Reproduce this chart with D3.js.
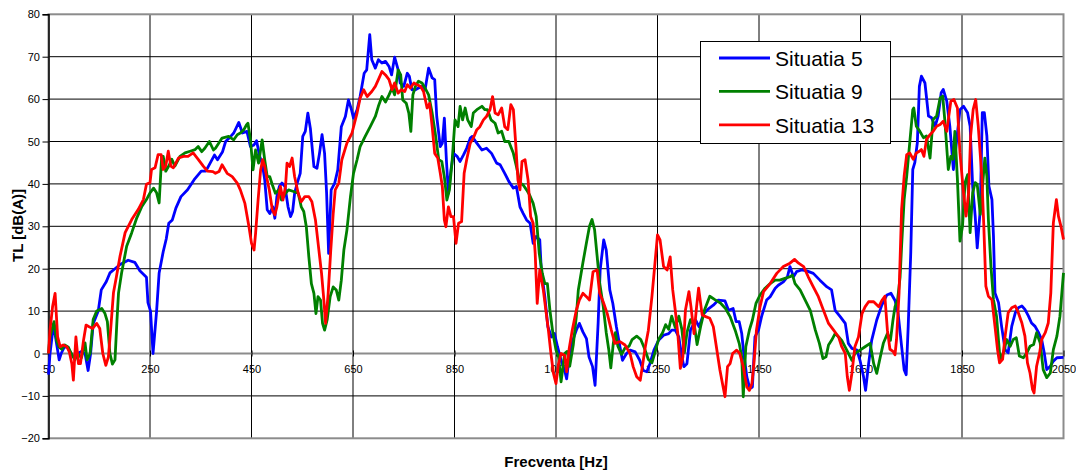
<!DOCTYPE html>
<html>
<head>
<meta charset="utf-8">
<script src="https://cdn.jsdelivr.net/npm/d3@7"></script>
<style>
  html, body { margin: 0; padding: 0; background: #fff; }
  svg { display: block; font-family: "Liberation Sans", Arial, sans-serif; }
</style>
</head>
<body>
<svg id="chart" width="1076" height="473"></svg>
<script>
// Frequency axis ticks (Hz) and level axis ticks (dB(A))
const freqTicks = [50, 250, 450, 650, 850, 1050, 1250, 1450, 1650, 1850, 2050];
const tlTicks = [-20, -10, 0, 10, 20, 30, 40, 50, 60, 70, 80];

const seriesNames = ["Situatia 5", "Situatia 9", "Situatia 13"];
const seriesColors = ["#0000ff", "#008000", "#ff0000"];

// Transmission loss TL [dB(A)] versus frequency [Hz], as [frequency, TL] pairs
const situatia5 = [[50,-5],[53,0],[60,7],[65,3],[71,-1.5],[75,0],[81,1.5],[88,1.5],[94,0],[101,-1],[107,0],[115,0.5],[122,0],[128,-4],[133,0],[138,7],[148,10],[154,15],[164,17],[171,19],[181,20],[191,21],[207,22],[220,21.5],[230,19.5],[243,18],[246,12],[251,10],[256,0],[263,10],[268,19],[276,24],[282,27],[287,30.7],[294,31.5],[301,34.3],[311,37],[324,38.6],[337,41],[351,43],[360,43],[377,46.8],[383,45.7],[393,47.6],[399,50],[409,51.2],[415,52],[425,54.5],[432,52],[441,52.4],[448,48.8],[455,49.2],[460,50.2],[466,46.5],[471,44.9],[476,41],[481,33.9],[486,33],[492,34.6],[496,31.9],[500,37],[505,39.4],[510,40.2],[516,39.4],[522,34.6],[527,32.3],[531,33.5],[535,37.8],[540,40.2],[546,42.5],[551,51.2],[556,52.4],[561,56.7],[566,53.1],[573,44.1],[579,43.7],[584,47.2],[589,51.6],[594,47.2],[598,37.8],[602,23.6],[607,38.6],[614,40.2],[620,43.3],[627,53.5],[635,55.9],[641,59.8],[647,57.5],[651,55.5],[658,57.5],[664,60.6],[672,66.1],[677,66.9],[683,75.2],[687,69.3],[694,67.3],[700,69.3],[707,68.5],[714,68.9],[721,67.7],[726,65.7],[732,69.9],[739,66.9],[743,63.8],[750,63],[757,66.1],[761,65.4],[766,62.2],[773,62.2],[779,62.6],[786,63],[792,62.2],[799,67.3],[806,65],[811,64.6],[815,55.9],[822,48.8],[826,49.6],[830,55.5],[834,45.7],[838,37.8],[843,43.3],[848,47.2],[855,46.5],[861,45.3],[868,46.9],[874,48.4],[881,50.8],[885,51.2],[894,49.6],[904,48],[913,48.4],[923,47.2],[933,44.9],[940,44.5],[949,42.5],[957,40.6],[966,39],[972,39.4],[979,34.6],[985,33.1],[992,31.5],[999,30.7],[1005,26],[1011,27.6],[1018,26.8],[1021,19.7],[1028,13.4],[1034,6.3],[1041,3.9],[1047,4.7],[1053,1.6],[1060,-1.6],[1067,-4],[1071,-6],[1076,-0.8],[1083,3.1],[1090,5.5],[1096,7.1],[1103,5.1],[1110,3.5],[1115,-0.8],[1122,-3.1],[1127,-7.5],[1133,7.1],[1137,19.7],[1144,26.8],[1149,24.4],[1156,15],[1162,11.8],[1169,6.3],[1176,1.6],[1181,-1.6],[1189,0],[1196,0.8],[1206,0.4],[1215,-1.6],[1222,-4],[1229,-4.3],[1235,-2.4],[1243,0.8],[1252,3.1],[1262,4.3],[1272,4.7],[1278,5.5],[1285,5.5],[1292,3.9],[1298,-0.8],[1302,-3.1],[1308,-2.4],[1315,5.5],[1325,7.9],[1332,6.3],[1341,9.4],[1351,10.6],[1360,11.4],[1370,12.6],[1383,12.4],[1390,10.2],[1399,10.6],[1405,7.5],[1411,7.5],[1416,4.7],[1420,0],[1426,-5.5],[1432,-8.3],[1437,-7.9],[1442,3.9],[1449,5.5],[1455,8.7],[1465,12.6],[1472,13.4],[1482,15.4],[1488,16.1],[1498,16.9],[1506,18.1],[1511,20.5],[1518,18.1],[1524,19.3],[1534,19.7],[1544,19.5],[1557,18.9],[1570,17.3],[1584,15.7],[1593,15],[1600,10.2],[1610,8.7],[1620,7.1],[1626,2.4],[1633,1.2],[1643,0.8],[1649,-1.6],[1656,-5.5],[1660,-8.7],[1666,-2.4],[1672,3.1],[1682,7.9],[1692,11.4],[1702,13.8],[1710,14.2],[1718,12.5],[1724,9.6],[1731,1.7],[1736,-3.8],[1740,-5],[1744,6.4],[1749,23.7],[1753,43.4],[1757,45],[1762,49.7],[1766,63],[1770,65.4],[1777,63.8],[1784,56],[1790,55.6],[1797,53.6],[1803,56],[1809,61.5],[1813,62.3],[1820,59.5],[1826,53.6],[1833,43.4],[1839,49.7],[1846,57.5],[1853,58.3],[1861,56.8],[1866,53.6],[1871,39.5],[1876,32.4],[1880,24.9],[1886,34],[1890,56.8],[1894,56.8],[1899,51.3],[1903,39.5],[1909,36.3],[1912,27.7],[1915,14.3],[1922,12],[1928,6.4],[1935,0.9],[1941,0.2],[1948,6.4],[1955,9.6],[1961,10.8],[1968,11.2],[1974,10.4],[1981,8.8],[1987,7.2],[1994,6.4],[2001,4.9],[2007,3.3],[2012,0.2],[2017,-3.8],[2024,-3],[2030,-1.8],[2037,-1],[2050,-0.9]];

const situatia9 = [[50,0],[53,4],[61,7.5],[66,3],[71,1.5],[76,1],[82,2],[89,1.5],[95,0],[102,-1.5],[107,0],[115,-1],[122,2.5],[126,-1.5],[132,0],[138,8],[145,10],[155,10.6],[161,9.5],[166,7.5],[171,0],[176,-2.5],[181,-1.5],[185,8],[188,14.3],[194,19],[204,25.3],[214,28.5],[224,32],[234,34.7],[243,36.3],[250,37.9],[257,39],[263,37.9],[268,35.5],[273,46.5],[276,46.5],[281,43],[287,44.2],[293,45.8],[299,44.2],[309,46.5],[319,47.3],[329,47.7],[339,48.1],[345,48.8],[352,47.6],[358,48.4],[367,50],[375,48],[379,48.4],[392,50.8],[405,51.2],[415,50.4],[422,51.6],[428,52],[435,52.8],[440,53.9],[443,54.3],[448,50.4],[453,43.3],[458,48],[464,44.9],[471,50.4],[476,45.7],[481,41.7],[486,41.7],[491,39.8],[497,37.8],[504,38.6],[509,36.2],[517,37.8],[523,38.6],[533,38.2],[542,37.8],[548,34.6],[553,33.5],[558,29.9],[563,22.8],[568,16.5],[573,14.2],[577,9.4],[581,13.4],[586,12.6],[590,7.1],[594,5.5],[599,7.9],[605,13.4],[611,15.7],[617,15],[622,12.6],[627,17.3],[632,24.4],[638,29.1],[645,37],[651,42.5],[658,45.7],[664,48.8],[674,51.2],[684,53.5],[694,55.9],[700,58.3],[707,60.6],[714,59.3],[721,61],[727,62.6],[732,61],[739,66.9],[744,65.7],[748,59.8],[755,59],[760,56.7],[764,52.4],[768,61],[773,63],[779,64.2],[786,63.8],[792,62.6],[799,61],[806,56.7],[812,52],[819,45.7],[825,45.3],[830,41.7],[835,36.2],[840,38.6],[845,44.9],[851,55.1],[857,53.5],[861,58.3],[866,55.1],[871,57.9],[876,55.1],[883,53.5],[887,56.7],[894,57.5],[904,58.3],[910,57.5],[915,57.5],[922,55.1],[930,54.3],[936,52],[943,52.4],[949,50],[957,50],[966,47.2],[972,44.1],[979,40.2],[985,39.8],[992,38.6],[998,37.4],[1005,35.4],[1011,32.3],[1017,23.6],[1023,18.9],[1028,16.5],[1033,16.5],[1038,10.2],[1044,4.7],[1050,0.8],[1055,-0.8],[1060,-6.7],[1067,0],[1072,0.5],[1077,-3],[1084,2],[1090,8.7],[1094,15],[1103,21.4],[1110,26.1],[1116,30],[1121,31.6],[1126,29.2],[1131,23],[1136,16.7],[1143,11.2],[1149,4.9],[1154,0.9],[1158,-3.4],[1163,2.5],[1167,4.9],[1172,1.7],[1179,-0.2],[1186,1.3],[1194,1.7],[1200,3.3],[1209,4.1],[1217,3.3],[1224,1.3],[1232,-1.4],[1239,-2.2],[1245,0.2],[1252,3.3],[1260,4.9],[1266,6.8],[1272,5.7],[1278,8.8],[1285,6.1],[1292,8.8],[1298,5.7],[1303,0.2],[1308,4.9],[1315,8],[1323,6.4],[1328,2.1],[1335,6.4],[1343,10.4],[1353,13.5],[1363,12.7],[1374,11.9],[1384,10.6],[1393,8.7],[1403,5.5],[1411,2.4],[1416,-0.8],[1419,-10.2],[1424,1.6],[1431,5.5],[1437,7.9],[1444,11.8],[1452,13.8],[1462,15.4],[1472,16.5],[1482,17.3],[1491,17.3],[1501,17.7],[1511,18.1],[1516,18.5],[1521,16.5],[1531,15],[1541,12.6],[1551,10.2],[1561,5.5],[1569,2.4],[1576,-1.2],[1582,-0.8],[1587,2],[1593,3.1],[1600,4.7],[1607,3.9],[1613,3.1],[1623,0.8],[1633,-1.6],[1639,0],[1649,0.8],[1659,1.6],[1669,2.4],[1676,-2.4],[1682,-4.7],[1689,-0.8],[1695,2.4],[1703,4.7],[1709,3.1],[1714,7.9],[1718,11],[1723,12.6],[1728,18],[1731,25.3],[1736,36.3],[1741,41.8],[1747,49.7],[1753,57.5],[1755,57.9],[1760,53.6],[1767,52.4],[1774,50.9],[1780,51.3],[1787,46.1],[1793,55.2],[1800,56],[1807,60.3],[1812,60.7],[1816,55.2],[1823,43.4],[1828,46.5],[1832,45.8],[1836,52.4],[1841,41],[1846,26.5],[1851,30],[1856,40.3],[1861,42.2],[1866,28.5],[1871,37.9],[1876,40.3],[1880,39.9],[1886,32.8],[1891,40.3],[1895,46.1],[1899,41.8],[1902,31.6],[1907,20.6],[1912,12.7],[1918,8.8],[1925,-1.4],[1932,0.2],[1938,3.3],[1945,1.7],[1951,3.3],[1957,3.7],[1963,-0.6],[1971,-1],[1978,0.2],[1984,1.7],[1991,2.1],[1997,4.9],[2004,2.5],[2010,-3.8],[2017,-5.7],[2024,-4.6],[2030,0.9],[2037,4.1],[2043,8.8],[2050,19]];

const situatia13 = [[50,0],[53,5.5],[58,11],[63,14.2],[68,3.9],[73,1.6],[79,2],[86,1.6],[91,0.4],[96,-2.4],[99,-6.3],[104,3.9],[109,-2.4],[113,-2.4],[119,3.1],[124,6.7],[130,6.3],[137,5.9],[145,7.1],[151,5.9],[157,0],[163,-2.8],[168,-0.8],[172,4.9],[178,14.3],[184,18.2],[191,23],[201,28.5],[214,31.6],[227,34],[237,36.3],[243,39.9],[250,40.3],[253,43.4],[260,43.8],[266,46.9],[272,46.9],[276,43.4],[281,44.2],[286,47.7],[291,44.2],[296,43.8],[306,46.1],[316,46.5],[325,46.5],[335,47.3],[345,45.8],[355,44.2],[363,43],[374,42.9],[379,42.5],[386,42.9],[392,44.5],[402,42.5],[412,41.7],[422,40.2],[428,38.6],[437,35.4],[445,29.9],[450,26],[455,24.4],[458,28.3],[463,36.2],[468,43.3],[472,45.7],[476,44.1],[481,40.9],[485,38.6],[491,33.9],[496,32.7],[500,34.6],[507,39.4],[512,36.2],[517,39.4],[520,44.9],[525,44.1],[530,46.1],[535,41.7],[542,37.8],[548,35.8],[555,37],[563,37],[569,35.8],[576,31.5],[582,25.2],[588,18.9],[592,13.4],[596,7.1],[601,14],[606,24],[611,33],[615,38.6],[622,40.2],[628,45.7],[638,49.6],[648,52],[658,56.7],[664,60.2],[671,62.2],[678,60.6],[687,61.8],[694,63],[700,64.6],[707,66.5],[714,65.7],[721,64.6],[727,62.2],[732,63.8],[739,61.4],[745,62.2],[752,61.8],[757,63.4],[763,62.6],[770,63.8],[776,63.4],[783,63],[789,61.8],[796,57.9],[801,59],[806,53.5],[811,47.2],[817,46.1],[822,42.5],[826,39.4],[830,31.5],[833,29.9],[838,34.6],[843,32.3],[848,32.3],[853,26],[858,30.7],[864,31.1],[869,42.5],[874,45.7],[881,49.6],[887,50.8],[894,52.8],[900,53.5],[907,55.1],[913,55.9],[920,57.5],[925,60.6],[930,56.7],[936,56.3],[943,57.9],[949,53.5],[955,52.8],[961,58.7],[966,57.5],[971,48.8],[975,40.9],[979,38.6],[983,45.3],[989,45.7],[995,40.9],[1000,32.3],[1005,30.7],[1009,23.6],[1013,11.8],[1018,19.7],[1025,15],[1030,10.2],[1035,5.5],[1040,0],[1045,-4.7],[1050,-7.1],[1055,-2.4],[1060,0],[1067,-0.4],[1071,-4.3],[1076,1.2],[1082,5.5],[1090,10.2],[1096,12.6],[1103,14.2],[1110,13.4],[1116,12.6],[1123,19.3],[1131,19.7],[1136,14.2],[1143,12.2],[1151,9.4],[1159,5.5],[1166,2.4],[1176,2.8],[1186,2],[1196,0],[1202,-3.1],[1209,-5.5],[1216,-6.3],[1221,-2.4],[1226,1.6],[1232,5.5],[1239,13.4],[1245,21.3],[1250,28],[1255,26.8],[1262,20.5],[1269,19.7],[1275,22.8],[1280,15],[1285,10.2],[1290,4.7],[1295,-3.5],[1300,-0.8],[1305,10.2],[1312,14.6],[1316,11],[1322,4.7],[1327,11],[1331,15.4],[1338,9.1],[1345,8.7],[1353,8.3],[1360,6.3],[1366,1.6],[1373,-3.9],[1378,-7.1],[1383,-10.2],[1388,-3.1],[1393,-2.4],[1398,0],[1406,0.8],[1412,0],[1419,-3.1],[1426,-7.9],[1431,-8.7],[1436,-7.1],[1440,-2.4],[1445,5.5],[1452,11],[1459,14.6],[1472,16.5],[1485,18.9],[1498,20.5],[1511,21.3],[1520,22.2],[1528,21.3],[1538,20.5],[1547,18.1],[1557,15.7],[1567,13.4],[1577,10.2],[1587,7.1],[1597,5.5],[1607,3.9],[1613,1.6],[1620,0],[1624,-5.5],[1628,-8.7],[1633,-4.7],[1639,1.6],[1646,3.9],[1653,9.4],[1659,11],[1666,12.2],[1676,12.2],[1686,11],[1692,12.5],[1698,13.5],[1703,5.5],[1708,1],[1714,0.5],[1718,-0.3],[1721,3.3],[1726,14.3],[1731,34],[1736,41.8],[1741,46.9],[1747,47.3],[1754,45.8],[1760,47.3],[1766,47.7],[1770,48.1],[1775,46.5],[1780,50.5],[1787,51.6],[1793,52.4],[1800,53.6],[1807,54],[1813,54.8],[1820,52.4],[1824,56],[1828,59.5],[1834,59.9],[1841,57.9],[1846,47.3],[1853,37.9],[1858,32.4],[1863,37.9],[1867,51.3],[1872,57.5],[1877,59.9],[1882,53.6],[1889,41.8],[1893,30],[1897,15.9],[1902,13.5],[1909,12.7],[1915,6.4],[1920,0.9],[1924,-2.2],[1930,-1.4],[1935,4.1],[1941,9.6],[1948,10.8],[1955,11.2],[1961,9.6],[1968,7.2],[1974,4.1],[1979,-2.2],[1984,-4.6],[1989,-8.5],[1992,-9.3],[1997,-3],[2003,0.2],[2007,3.3],[2014,4.9],[2020,7.2],[2025,14.3],[2030,30.8],[2036,36.3],[2040,32.4],[2045,30],[2050,26.9]];

const allSeries = [situatia5, situatia9, situatia13];

// ---- layout ----
const svg = d3.select("#chart");
const plot = { left: 48.5, right: 1063.5, top: 14.3, bottom: 438.3 };

const x = d3.scaleLinear().domain([50, 2050]).range([plot.left, plot.right]);
const y = d3.scaleLinear().domain([-20, 80]).range([plot.bottom, plot.top]);

// ---- grid ----
const grid = svg.append("g").attr("class", "grid");
grid.selectAll("line.h")
  .data(tlTicks.filter(t => t !== 0 && t !== -20 && t !== 80))
  .join("line")
  .attr("x1", plot.left).attr("x2", plot.right)
  .attr("y1", d => y(d)).attr("y2", d => y(d))
  .attr("stroke", "#000").attr("stroke-width", 1);
grid.selectAll("line.v")
  .data(freqTicks.slice(1, -1))
  .join("line")
  .attr("x1", d => x(d)).attr("x2", d => x(d))
  .attr("y1", plot.top).attr("y2", plot.bottom)
  .attr("stroke", "#000").attr("stroke-width", 1);

// plot frame
svg.append("rect")
  .attr("x", plot.left).attr("y", plot.top)
  .attr("width", plot.right - plot.left).attr("height", plot.bottom - plot.top)
  .attr("fill", "none").attr("stroke", "#8c8c8c").attr("stroke-width", 2);

// zero line acting as the frequency axis
svg.append("line")
  .attr("x1", plot.left).attr("x2", plot.right)
  .attr("y1", y(0)).attr("y2", y(0))
  .attr("stroke", "#8c8c8c").attr("stroke-width", 2);

// ---- axes ----
const yAxis = svg.append("g")
  .attr("transform", `translate(${plot.left},0)`)
  .call(d3.axisLeft(y).tickValues(tlTicks).tickSize(6).tickPadding(2.5));
yAxis.select(".domain").attr("stroke", "#000").attr("stroke-width", 1.5);
yAxis.selectAll(".tick line").attr("stroke", "#000");
yAxis.selectAll(".tick text")
  .attr("font-family", "Liberation Sans, Arial, sans-serif")
  .attr("font-size", 11).attr("fill", "#000");

const xAxis = svg.append("g")
  .attr("transform", `translate(0,${y(0)})`)
  .call(d3.axisBottom(x).tickValues(freqTicks).tickFormat(d3.format("d")).tickSize(3).tickPadding(9));
xAxis.select(".domain").remove();
xAxis.selectAll(".tick line").attr("y1", -3).attr("stroke", "#000");
xAxis.selectAll(".tick text")
  .attr("font-family", "Liberation Sans, Arial, sans-serif")
  .attr("font-size", 11).attr("fill", "#000");

// ---- series ----
const line = d3.line().x(d => x(d[0])).y(d => y(d[1]));
svg.append("g").attr("class", "series")
  .selectAll("path")
  .data(allSeries)
  .join("path")
  .attr("d", line)
  .attr("fill", "none")
  .attr("stroke", (d, i) => seriesColors[i])
  .attr("stroke-width", 2.8)
  .attr("stroke-linejoin", "round");

// ---- axis titles ----
svg.append("text")
  .attr("x", 556).attr("y", 467)
  .attr("text-anchor", "middle")
  .attr("font-size", 15).attr("font-weight", "bold")
  .text("Frecventa [Hz]");
svg.append("text")
  .attr("transform", "translate(23,225.5) rotate(-90)")
  .attr("text-anchor", "middle")
  .attr("font-size", 15).attr("font-weight", "bold")
  .text("TL [dB(A)]");

// ---- legend ----
const legend = svg.append("g").attr("class", "legend");
legend.append("rect")
  .attr("x", 700.5).attr("y", 41.5).attr("width", 190).attr("height", 102)
  .attr("fill", "#fff").attr("stroke", "#000").attr("stroke-width", 1);
const entries = legend.selectAll("g.entry")
  .data(seriesNames)
  .join("g")
  .attr("transform", (d, i) => `translate(0,${58 + i * 33.4})`);
entries.append("line")
  .attr("x1", 719).attr("x2", 770).attr("y1", 0).attr("y2", 0)
  .attr("stroke", (d, i) => seriesColors[i]).attr("stroke-width", 2.8);
entries.append("text")
  .attr("x", 775).attr("y", 7.7)
  .attr("font-size", 21).attr("fill", "#000")
  .text(d => d);
</script>
</body>
</html>
